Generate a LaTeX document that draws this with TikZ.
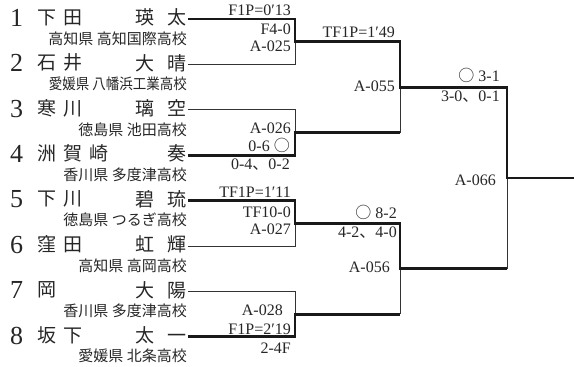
\documentclass[tikz,border=0pt]{standalone}
\usepackage{fontspec}
\usepackage{graphicx}
\setmainfont{Liberation Serif}
\newfontfamily\jpfont{Noto Sans CJK JP}
\newcommand{\jp}[1]{{\jpfont #1}}
\newcommand{\fgap}{\kern7pt}
\newcommand{\ggap}{\kern13pt}

\tikzset{
  lose/.style={line width=0.9pt, draw=black!80},
  win/.style={line width=2.8pt, draw=black!90},
  lbl/.style={font=\fontsize{16}{16}\selectfont, text=black!85, inner sep=0pt, anchor=base east},
  numtxt/.style={font=\fontsize{26}{26}\selectfont, text=black!85, inner sep=0pt, anchor=base west},
  nametxt/.style={font=\jpfont\fontsize{19}{19}\selectfont, text=black!85, inner sep=0pt},
  schooltxt/.style={font=\jpfont\fontsize{15}{15}\selectfont, text=black!85, inner sep=0pt, anchor=east},
}

\begin{document}
\begin{tikzpicture}[x=1pt, y=-1pt]
\useasboundingbox (0,0) rectangle (574,367);

% Players
\foreach \i/\fam/\giv/\sch in {
  1/{下\fgap 田}/{瑛\ggap 太}/{高知県 高知国際高校},
  2/{石\fgap 井}/{大\ggap 晴}/{\scalebox{0.9}[1]{愛媛県 八幡浜工業高校}},
  3/{寒\fgap 川}/{璃\ggap 空}/{徳島県 池田高校},
  4/{洲\fgap 賀\fgap 崎}/{奏}/{香川県 多度津高校},
  5/{下\fgap 川}/{碧\ggap 琉}/{徳島県 つるぎ高校},
  6/{窪\fgap 田}/{虹\ggap 輝}/{高知県 高岡高校},
  7/{岡}/{大\ggap 陽}/{香川県 多度津高校},
  8/{坂\fgap 下}/{太\ggap 一}/{愛媛県 北条高校}} {
  \pgfmathsetmacro{\yy}{19+45.4*(\i-1)}
  \coordinate (p\i) at (188,\yy);
  \node[numtxt] (num\i) at (10,\yy+7.3) {\i};
  \node[nametxt, anchor=west] (fam\i) at (37,\yy-1.5) {\fam};
  \node[nametxt, anchor=east] (giv\i) at (187,\yy-1.5) {\giv};
  \node[schooltxt] (sch\i) at (187,\yy+19.5) {\sch};
}

% Match points
\coordinate (r1a) at (295,41.7);
\coordinate (r1b) at (295,132.5);
\coordinate (r1c) at (295,223.3);
\coordinate (r1d) at (295,314.1);
\coordinate (r2a) at (400,87.1);
\coordinate (r2b) at (400,268.7);
\coordinate (fin) at (507,177.9);
\coordinate (champ) at (574,177.9);

% Losing lines
\draw[lose] (p2) -| (r1a);
\draw[lose] (p3) -| (r1b);
\draw[lose] (p6) -| (r1c);
\draw[lose] (p7) -| (r1d);
\draw[lose] (r1b -| r2a) -- (r2a);
\draw[lose] (r1d -| r2b) -- (r2b);
\draw[lose] (r2b -| fin) -- (fin);

% Winning lines
\draw[win] (p1) -| (r1a) -| (r2a) -| (fin) -- (champ);
\draw[win] (p4) -| (r1b) -- (r1b -| r2a);
\draw[win] (p5) -| (r1c) -| (r2b) -- (r2b -| fin);
\draw[win] (p8) -| (r1d) -- (r1d -| r2b);

% Scores and match numbers
\foreach \x/\y/\t/\nm in {
  291/10/{F1P=0′13}/s025a, 291/29/{F4-0}/s025b, 291/46/{A-025}/a025,
  291/128/{A-026}/a026, 290/146/{0-6 \jp{○}}/s026a, 290/164/{0-4\jp{、}0-2}/s026b,
  291/192/{TF1P=1′11}/s027a, 291/212/{TF10-0}/s027b, 291/229/{A-027}/a027,
  283/310/{A-028}/a028, 291/329/{F1P=2′19}/s028a, 291/348/{2-4F}/s028b,
  395/32/{TF1P=1′49}/s055a, 395/86/{A-055}/a055,
  397/213/{\jp{○} 8-2}/s056a, 397/232/{4-2\jp{、}4-0}/s056b, 390/267.5/{A-056}/a056,
  500/76/{\jp{○} 3-1}/s066a, 500/96/{3-0\jp{、}0-1}/s066b, 496/180/{A-066}/a066} {
  \node[lbl] (\nm) at (\x,\y+5) {\t};
}

\end{tikzpicture}
\end{document}
